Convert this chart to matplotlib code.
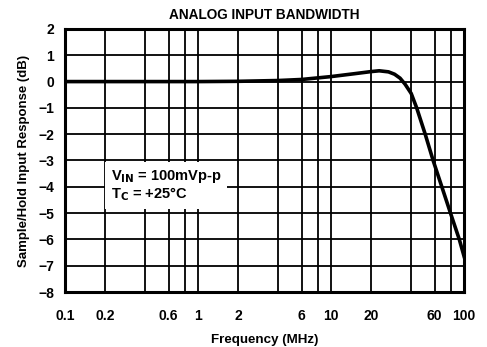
import matplotlib.pyplot as plt
from matplotlib.ticker import FixedLocator, NullLocator

# values
freq_mhz = [0.1, 0.5, 1, 2, 4, 6, 10, 15, 20, 23, 27, 30, 33, 36, 40, 44, 51, 58.5, 68, 79, 92, 100]
response_db = [0, 0, 0, 0.01, 0.04, 0.08, 0.19, 0.30, 0.38, 0.41, 0.37, 0.28, 0.13, -0.1, -0.45, -1.0,
               -2.0, -3.0, -4.0, -5.0, -6.0, -6.65]

grid_x = [0.2, 0.4, 0.6, 0.8, 1, 2, 4, 6, 8, 10, 20, 40, 60, 80]
xtick_vals = [0.1, 0.2, 0.6, 1, 2, 6, 10, 20, 60, 100]
xtick_labels = ['0.1', '0.2', '0.6', '1', '2', '6', '10', '20', '60', '100']
ytick_vals = list(range(-8, 3))

plt.rcParams['font.family'] = ['Liberation Sans', 'DejaVu Sans']
plt.rcParams['font.weight'] = 'bold'

fig = plt.figure(figsize=(4.87, 3.47), dpi=100)
ax = fig.add_axes([0.1335, 0.1585, 0.8195, 0.758])

ax.set_xscale('log')
ax.set_xlim(0.1, 100)
ax.set_ylim(-8, 2)

# grid drawn by hand so it matches the paper chart
for gx in grid_x:
    ax.axvline(gx, color='black', lw=1.3, zorder=1)
for gy in ytick_vals[1:-1]:
    ax.axhline(gy, color='black', lw=1.3, zorder=1)

ax.plot(freq_mhz, response_db, color='black', lw=2.6, zorder=3)

ax.xaxis.set_major_locator(FixedLocator(xtick_vals))
ax.xaxis.set_minor_locator(NullLocator())
ax.set_xticklabels(xtick_labels)
ax.set_yticks(ytick_vals)
ax.tick_params(length=0, labelsize=10)
ax.tick_params(axis='x', pad=12)
ax.tick_params(axis='y', pad=8)
for lab in ax.get_xticklabels() + ax.get_yticklabels():
    lab.set_fontweight('bold')

for s in ax.spines.values():
    s.set_linewidth(2.2)

ax.text(0.115, 0.355, 'V$_{\\mathbf{IN}}$ = 100mVp-p\nT$_{\\mathbf{C}}$ = +25°C',
        transform=ax.transAxes, fontsize=10.5, fontweight='bold', linespacing=1.05,
        bbox=dict(facecolor='white', edgecolor='none', pad=4), zorder=4)

ax.set_title('ANALOG INPUT BANDWIDTH', fontsize=9.8, fontweight='bold', pad=7)
ax.set_xlabel('Frequency (MHz)', fontsize=9.6, fontweight='bold', labelpad=8)
ax.set_ylabel('Sample/Hold Input Response (dB)', fontsize=9.5, fontweight='bold', labelpad=6)

plt.savefig('out.png', dpi=100)
